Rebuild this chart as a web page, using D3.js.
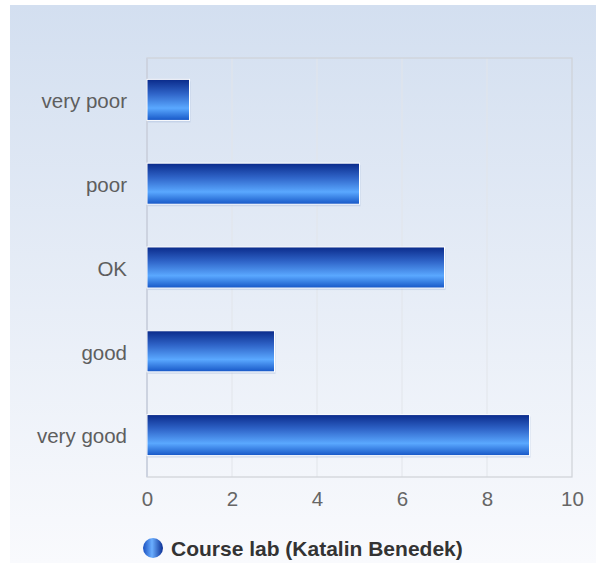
<!DOCTYPE html>
<html>
<head>
<meta charset="utf-8">
<script src="https://cdn.jsdelivr.net/npm/d3@7"></script>
<style>
  body { margin: 0; background: #fff; }
  svg { display: block; font-family: "Liberation Sans", Arial, sans-serif; }
</style>
</head>
<body>
<svg width="596" height="563"></svg>
<script>
var categories = ["very poor", "poor", "OK", "good", "very good"];
var counts = [1, 5, 7, 3, 9];
var xTicks = [0, 2, 4, 6, 8, 10];
var seriesName = "Course lab (Katalin Benedek)";

var svg = d3.select("svg");
var defs = svg.append("defs");

var bg = defs.append("linearGradient").attr("id", "bg")
    .attr("x1", 0).attr("y1", 0).attr("x2", 0).attr("y2", 1);
bg.append("stop").attr("offset", "0%").attr("stop-color", "#d3dff0");
bg.append("stop").attr("offset", "100%").attr("stop-color", "#f9fafd");

var barGrad = defs.append("linearGradient").attr("id", "bar")
    .attr("x1", 0).attr("y1", 0).attr("x2", 0).attr("y2", 1);
barGrad.append("stop").attr("offset", "0%").attr("stop-color", "#0a2a8a");
barGrad.append("stop").attr("offset", "35%").attr("stop-color", "#2f64c8");
barGrad.append("stop").attr("offset", "70%").attr("stop-color", "#5aa8ff");
barGrad.append("stop").attr("offset", "100%").attr("stop-color", "#1656c6");

var dot = defs.append("linearGradient").attr("id", "dot")
    .attr("x1", 0).attr("y1", 0).attr("x2", 1).attr("y2", 0);
dot.append("stop").attr("offset", "0%").attr("stop-color", "#1a50c0");
dot.append("stop").attr("offset", "45%").attr("stop-color", "#6aaeff");
dot.append("stop").attr("offset", "100%").attr("stop-color", "#0c2f94");

svg.append("rect").attr("x", 10).attr("y", 5).attr("width", 586).attr("height", 558)
    .attr("fill", "url(#bg)");

var pLeft = 147, pTop = 58, pRight = 572, pBottom = 477;

var x = d3.scaleLinear().domain([0, 10]).range([pLeft, pRight]);
var y = d3.scaleBand().domain(categories).range([pTop, pBottom]).paddingInner(0.51).paddingOuter(0.255);

// grid
svg.append("g").selectAll("line").data(xTicks.slice(1, -1)).enter().append("line")
    .attr("x1", d => x(d)).attr("x2", d => x(d))
    .attr("y1", pTop).attr("y2", pBottom)
    .attr("stroke", "#e2e5ea").attr("stroke-width", 1);

// plot frame
svg.append("rect").attr("x", pLeft).attr("y", pTop)
    .attr("width", pRight - pLeft).attr("height", pBottom - pTop)
    .attr("fill", "none").attr("stroke", "#cfd2d8").attr("stroke-width", 1.2);
svg.append("line").attr("x1", pLeft).attr("x2", pLeft).attr("y1", pTop).attr("y2", pBottom)
    .attr("stroke", "#cdd3e0").attr("stroke-width", 2);

// bars
var bars = svg.append("g");
bars.selectAll(".shadow").data(counts).enter().append("rect")
    .attr("class", "shadow")
    .attr("x", x(0) + 1)
    .attr("y", (d, i) => y(categories[i]) + 2)
    .attr("width", d => x(d) - x(0))
    .attr("height", y.bandwidth())
    .attr("fill", "#9fb3d6").attr("opacity", 0.35);
bars.selectAll(".bar").data(counts).enter().append("rect")
    .attr("class", "bar")
    .attr("x", x(0))
    .attr("y", (d, i) => y(categories[i]))
    .attr("width", d => x(d) - x(0))
    .attr("height", y.bandwidth())
    .attr("fill", "url(#bar)")
    .attr("stroke", "#ffffff").attr("stroke-width", 1);

// x axis
var xAxis = svg.append("g").attr("transform", "translate(0," + pBottom + ")")
    .call(d3.axisBottom(x).tickValues(xTicks).tickSize(0).tickPadding(14));
xAxis.select(".domain").remove();
xAxis.selectAll("text").attr("font-size", 20.5).attr("fill", "#666").attr("font-family", "Liberation Sans, Arial, sans-serif");

// y axis
var yAxis = svg.append("g").attr("transform", "translate(" + (pLeft - 20) + ",0)")
    .call(d3.axisLeft(y).tickSize(0).tickPadding(0));
yAxis.select(".domain").remove();
yAxis.selectAll("text").attr("font-size", 20.5).attr("fill", "#5e5e5e").attr("font-family", "Liberation Sans, Arial, sans-serif")
    .attr("dy", "0.4em");

// legend
svg.append("circle").attr("cx", 153).attr("cy", 548).attr("r", 10).attr("fill", "url(#dot)");
svg.append("text").attr("x", 171).attr("y", 556)
    .attr("font-size", 21).attr("font-weight", "bold").attr("fill", "#333")
    .text(seriesName);
</script>
</body>
</html>
